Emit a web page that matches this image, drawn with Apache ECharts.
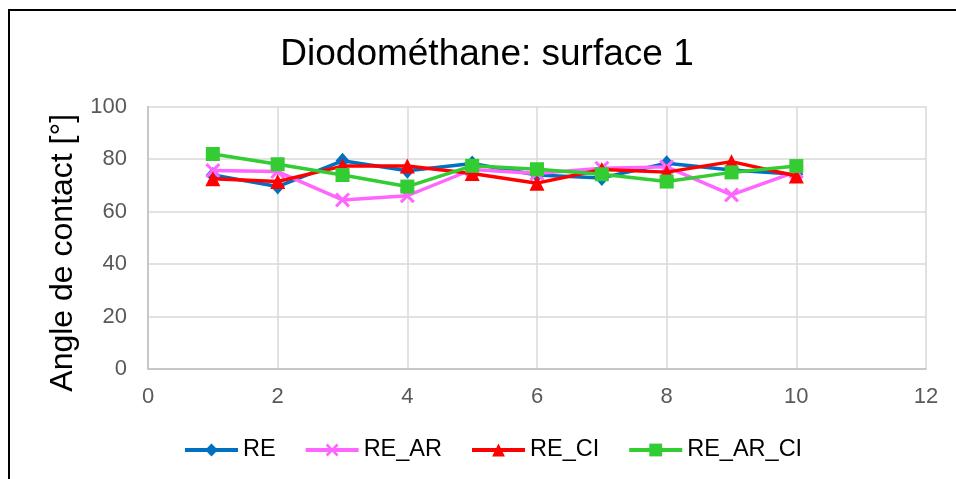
<!DOCTYPE html>
<html>
<head>
<meta charset="utf-8">
<script src="https://cdn.jsdelivr.net/npm/echarts@6/dist/echarts.min.js"></script>
<style>
html,body{margin:0;padding:0;background:#fff;}
#c{width:956px;height:479px;}
</style>
</head>
<body>
<div id="c"></div>
<script>
var xs = [1, 2, 3, 4, 5, 6, 7, 8, 9, 10];
var seriesNames = ['RE', 'RE_AR', 'RE_CI', 'RE_AR_CI'];
var reValues = [73.9, 69.5, 79.3, 75.5, 78.3, 73.9, 72.8, 78.4, 75.8, 74.2];
var reArValues = [75.6, 75.2, 64.4, 66.0, 76.0, 74.5, 76.5, 77.0, 66.3, 75.2];
var reCiValues = [72.5, 71.4, 77.3, 77.3, 74.5, 70.8, 76.0, 75.0, 79.0, 73.5];
var reArCiValues = [81.9, 78.0, 73.9, 69.5, 77.4, 76.1, 74.2, 71.4, 74.9, 77.3];
var xTicks = [0, 2, 4, 6, 8, 10, 12];
var yTicks = [0, 20, 40, 60, 80, 100];

function pairs(vals) { return xs.map(function (x, i) { return [x, vals[i]]; }); }

var FONT = '"Liberation Sans", Arial, sans-serif';
var crossPath = 'path://M2,0 L7,5 L12,0 L14,2 L9,7 L14,12 L12,14 L7,9 L2,14 L0,12 L5,7 L0,2 Z';

var styles = [
  { color: '#0070C0', symbol: 'diamond', size: [14, 16] },
  { color: '#FF66FF', symbol: crossPath, size: 15 },
  { color: '#FF0000', symbol: 'triangle', size: 15 },
  { color: '#33CC33', symbol: 'rect', size: 14 }
];
var allValues = [reValues, reArValues, reCiValues, reArCiValues];

var chart = echarts.init(document.getElementById('c'), null, { renderer: 'canvas' });
chart.setOption({
  animation: false,
  backgroundColor: '#fff',
  textStyle: { fontFamily: FONT },
  title: {
    text: 'Diodométhane: surface 1',
    left: 482,
    top: 31,
    textAlign: 'center',
    textStyle: { fontFamily: FONT, fontSize: 37, fontWeight: 'normal', color: '#000' }
  },
  graphic: [{
    type: 'rect',
    shape: { x: 9, y: 10, width: 980, height: 500 },
    style: { fill: 'none', stroke: '#000', lineWidth: 2 },
    silent: true
  }],
  legend: {
    data: seriesNames,
    left: 178,
    top: 433,
    itemWidth: 53,
    itemHeight: 16,
    itemGap: 28,
    lineStyle: { width: 4 },
    textStyle: { fontFamily: FONT, fontSize: 23.5, color: '#000' }
  },
  grid: { left: 148, right: 30, top: 106.5, bottom: 110, containLabel: false },
  xAxis: {
    type: 'value',
    min: xTicks[0],
    max: xTicks[xTicks.length - 1],
    interval: 2,
    axisLine: { lineStyle: { color: '#bfbfbf', width: 1.5 } },
    axisTick: { show: false },
    axisLabel: { color: '#595959', fontSize: 22, fontFamily: FONT, margin: 17 },
    splitLine: { show: true, lineStyle: { color: '#d9d9d9', width: 1.5 } }
  },
  yAxis: {
    type: 'value',
    min: yTicks[0],
    max: yTicks[yTicks.length - 1],
    interval: 20,
    name: 'Angle de contact [°]',
    nameLocation: 'middle',
    nameGap: 68,
    nameTextStyle: { fontFamily: FONT, fontSize: 32, color: '#000', padding: [0, 30, 0, 0] },
    axisLine: { show: true, lineStyle: { color: '#bfbfbf', width: 1.5 } },
    axisTick: { show: false },
    axisLabel: { color: '#595959', fontSize: 22, fontFamily: FONT, margin: 21 },
    splitLine: { show: true, lineStyle: { color: '#d9d9d9', width: 1.5 } }
  },
  series: seriesNames.map(function (name, i) {
    return {
      name: name,
      type: 'line',
      data: pairs(allValues[i]),
      symbol: styles[i].symbol,
      symbolSize: styles[i].size,
      showAllSymbol: true,
      z: 2 + i,
      lineStyle: { color: styles[i].color, width: 3.5 },
      itemStyle: { color: styles[i].color, borderWidth: 0 }
    };
  })
});
</script>
</body>
</html>
